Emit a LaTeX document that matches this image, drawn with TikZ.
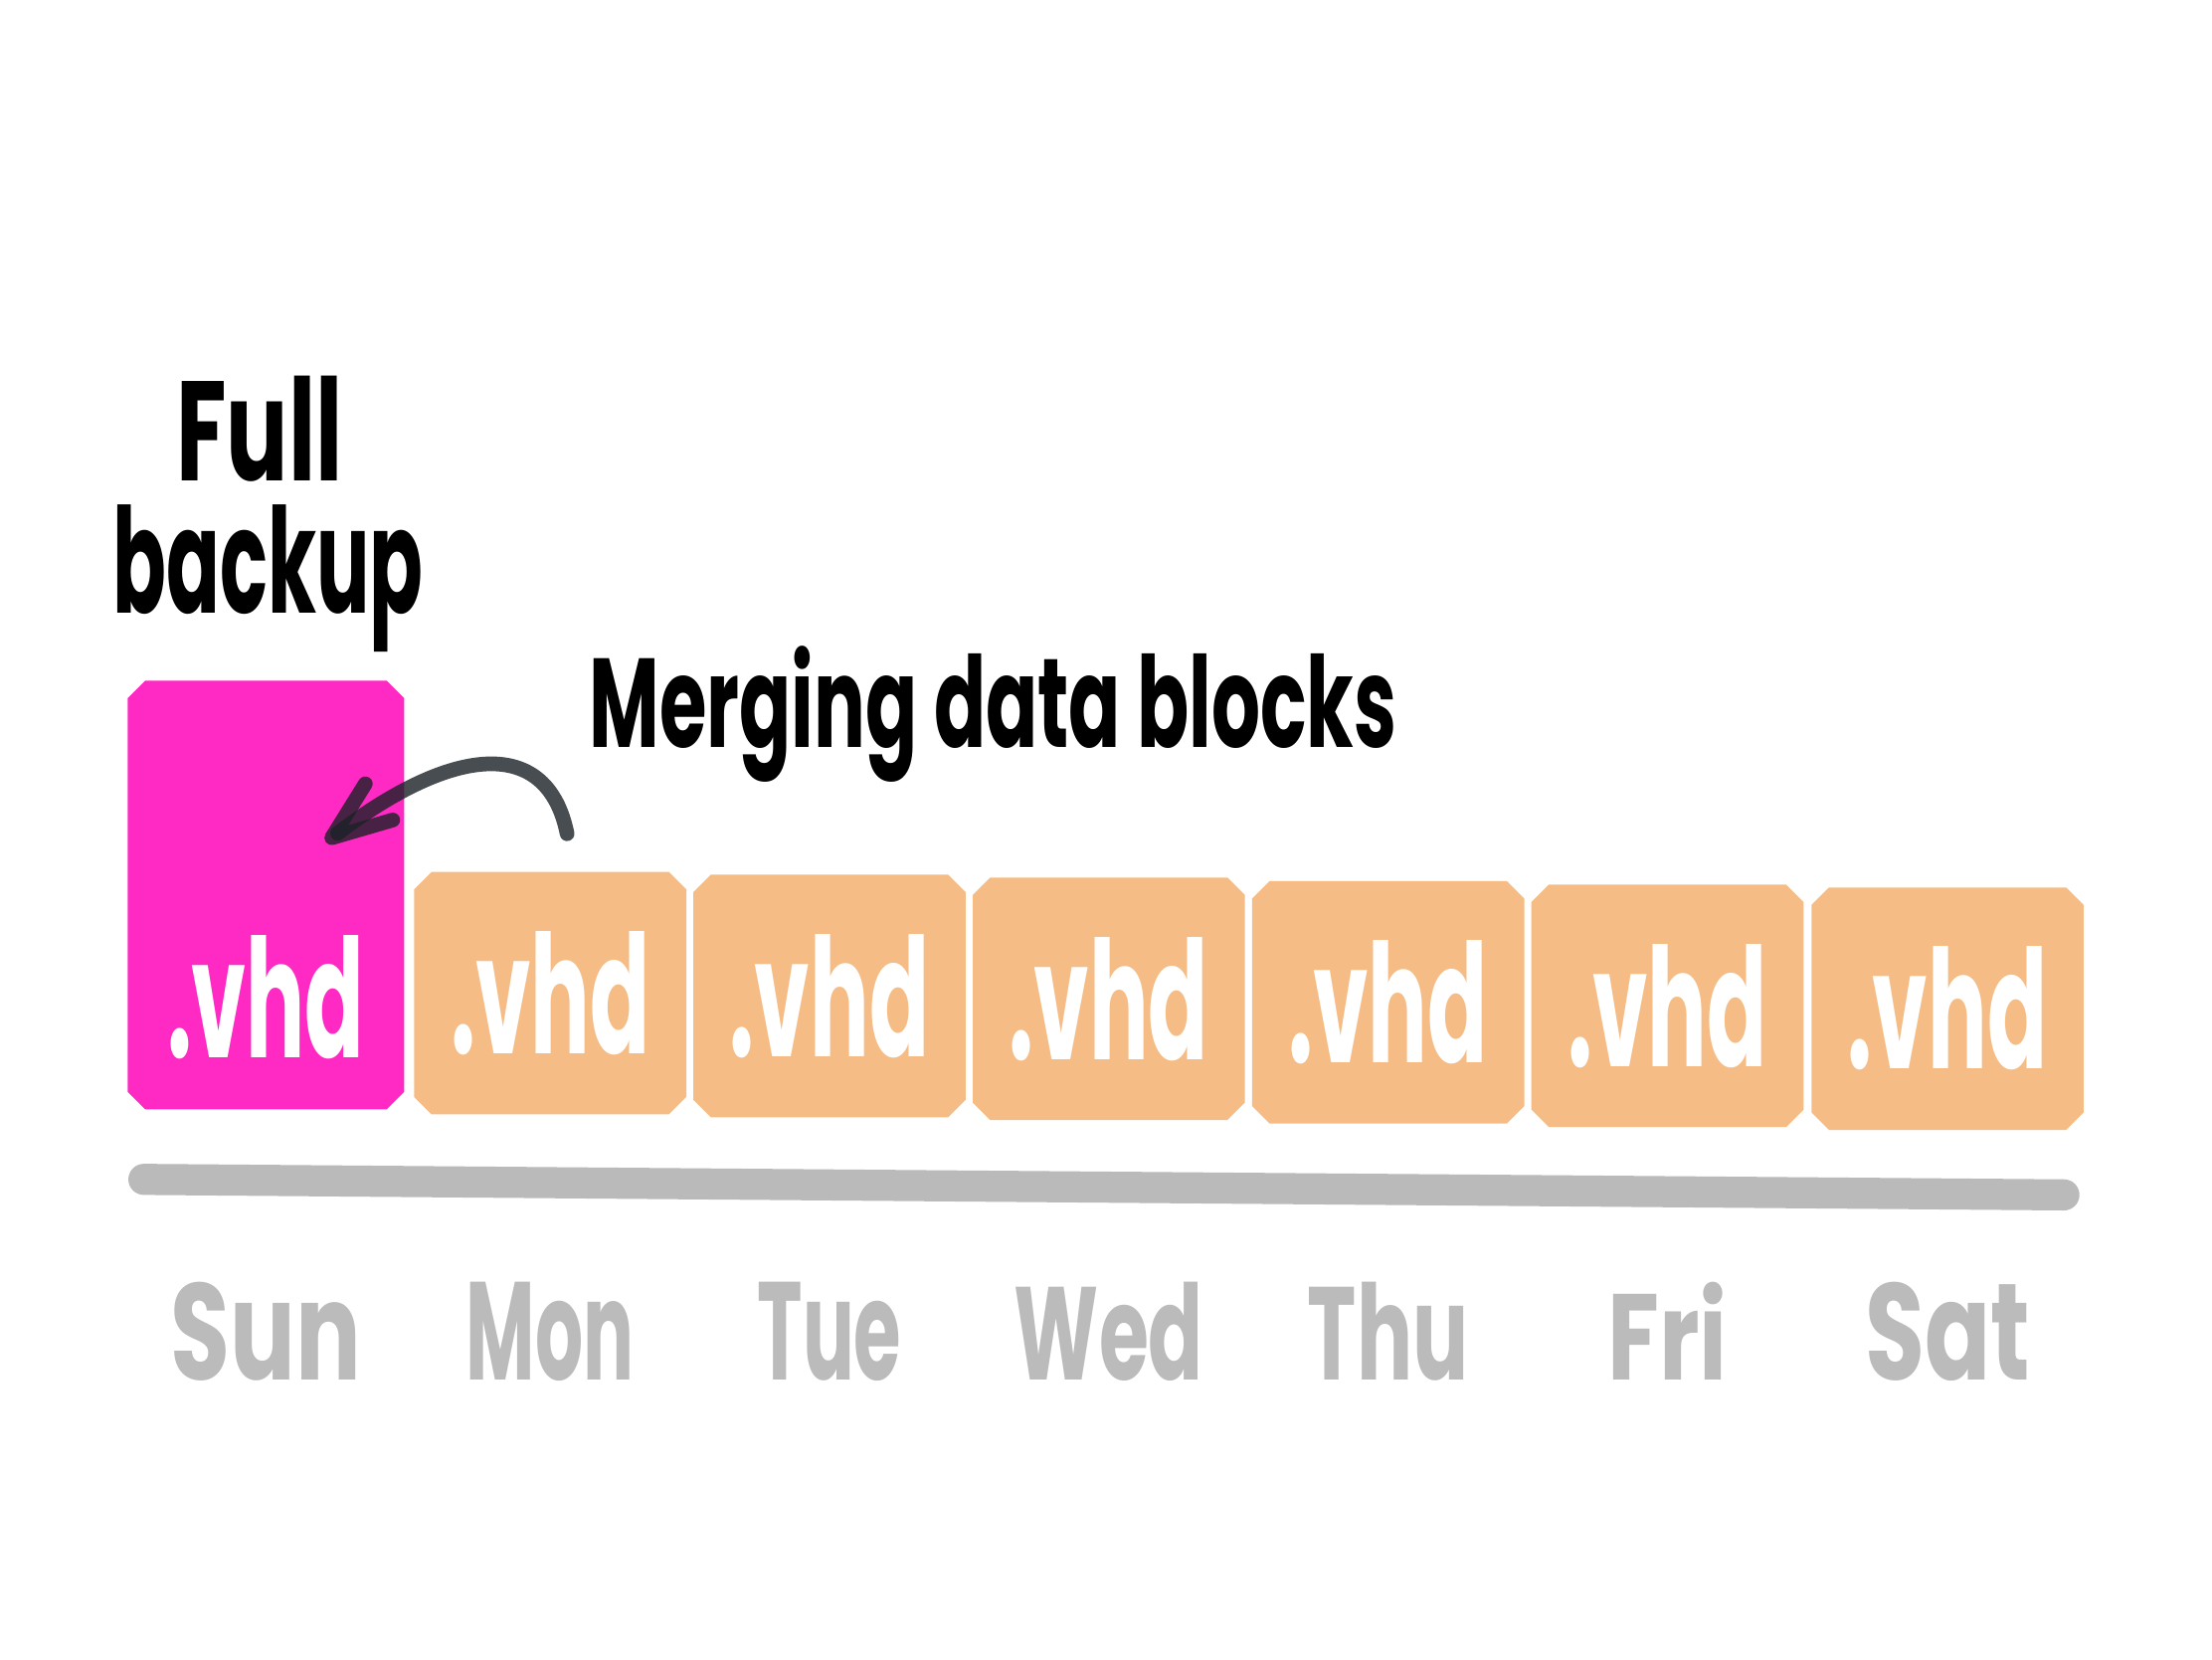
\documentclass[tikz,border=0pt]{standalone}
\usepackage{fontspec}
\setmainfont{Poppins}
\usetikzlibrary{positioning,arrows.meta,backgrounds}

\definecolor{fullpink}{HTML}{FF2AC3}
\definecolor{diffpeach}{HTML}{F5BD85}
\definecolor{axisgray}{HTML}{BABABA}
\definecolor{daygray}{HTML}{BBBBBB}
\definecolor{arrowgray}{HTML}{1A2125}

% squeeze a word into a given width and height, like the hand lettering
\newcommand{\sized}[3]{\resizebox{#1}{#2}{\bfseries #3}}
% fill a node's box with its four corners cut off
\newcommand{\chamferfill}[2]{%
  \fill[#2] ([xshift=5pt]#1.north west) -- ([xshift=-5pt]#1.north east)
    -- ([yshift=-5pt]#1.north east) -- ([yshift=5pt]#1.south east)
    -- ([xshift=-5pt]#1.south east) -- ([xshift=5pt]#1.south west)
    -- ([yshift=5pt]#1.south west) -- ([yshift=-5pt]#1.north west) -- cycle;}

\begin{document}
\begin{tikzpicture}[
    x=0.014184cm, y=-0.014184cm,
    fullblock/.style={rectangle, minimum width=78.7pt, minimum height=122.3pt, inner sep=0pt},
    diffblock/.style={rectangle, minimum width=77.5pt, minimum height=69pt, inner sep=0pt, text=white},
    vhdlabel/.style={text=white, inner sep=0pt, anchor=base},
    headline/.style={text=black, inner sep=0pt, anchor=base},
    daylabel/.style={text=daygray, inner sep=0pt, anchor=base},
    timeline/.style={draw=axisgray, line width=8.9pt, line cap=round},
    mergearrow/.style={draw=arrowgray, draw opacity=0.8, line width=4.2pt, line cap=round, -{Straight Barb[length=17pt, width=13pt, round]}}
]

\useasboundingbox (0,0) rectangle (1568,1176);

% Titles
\node[headline] (fulltext) at (184,341) {\sized{47.6pt}{30pt}{Full}};
\node[headline] (backuptext) at (190,435) {\sized{88.8pt}{31pt}{backup}};
\node[headline] (mergetext) at (704,530) {\sized{231pt}{29pt}{Merging data blocks}};

% Full backup block
\node[fullblock] (sun) at (188.5,634.5) {};
\coordinate (vhdbase) at (0,750);
\node[vhdlabel] (sunfile) at (sun |- vhdbase) {\sized{56.5pt}{35pt}{.vhd}};

% Daily blocks
\node[diffblock] (mon) at (390,704) {\sized{57pt}{35pt}{.vhd}};
\node[diffblock] (tue) at (588,706) {\sized{57pt}{35pt}{.vhd}};
\node[diffblock] (wed) at (786,708) {\sized{57pt}{35pt}{.vhd}};
\node[diffblock] (thu) at (984,710.5) {\sized{57pt}{35pt}{.vhd}};
\node[diffblock] (fri) at (1182,713) {\sized{57pt}{35pt}{.vhd}};
\node[diffblock] (sat) at (1380.5,715) {\sized{57pt}{35pt}{.vhd}};

% Block fills behind the file names
\begin{pgfonlayer}{background}
  \fill[white] (0,0) rectangle (1568,1176);
  \chamferfill{sun}{fullpink}
  \chamferfill{mon}{diffpeach}
  \chamferfill{tue}{diffpeach}
  \chamferfill{wed}{diffpeach}
  \chamferfill{thu}{diffpeach}
  \chamferfill{fri}{diffpeach}
  \chamferfill{sat}{diffpeach}
\end{pgfonlayer}

% Merge arrow
\coordinate (mergetail) at (402,591);
\coordinate (mergetip) at (231,597);
\draw[mergearrow] (mergetail) .. controls (388,522) and (322,528) .. (mergetip);

% Timeline
\coordinate (axisstart) at (102,836);
\coordinate (axisend) at (1463,847);
\draw[timeline] (axisstart) -- (axisend);

% Day names
\coordinate (daybase) at (0,978);
\node[daylabel] (sunday) at (sun |- daybase) {\sized{54.5pt}{28pt}{Sun}};
\node[daylabel] (monday) at (mon |- daybase) {\sized{48pt}{28pt}{Mon}};
\node[daylabel] (tueday) at (tue |- daybase) {\sized{41.2pt}{28pt}{Tue}};
\node[daylabel] (wedday) at (wed |- daybase) {\sized{54.1pt}{28pt}{Wed}};
\node[daylabel] (thuday) at (thu |- daybase) {\sized{46pt}{28pt}{Thu}};
\node[daylabel] (friday) at (fri |- daybase) {\sized{34.3pt}{28pt}{Fri}};
\node[daylabel] (satday) at (sat |- daybase) {\sized{47.2pt}{28pt}{Sat}};

\end{tikzpicture}
\end{document}
